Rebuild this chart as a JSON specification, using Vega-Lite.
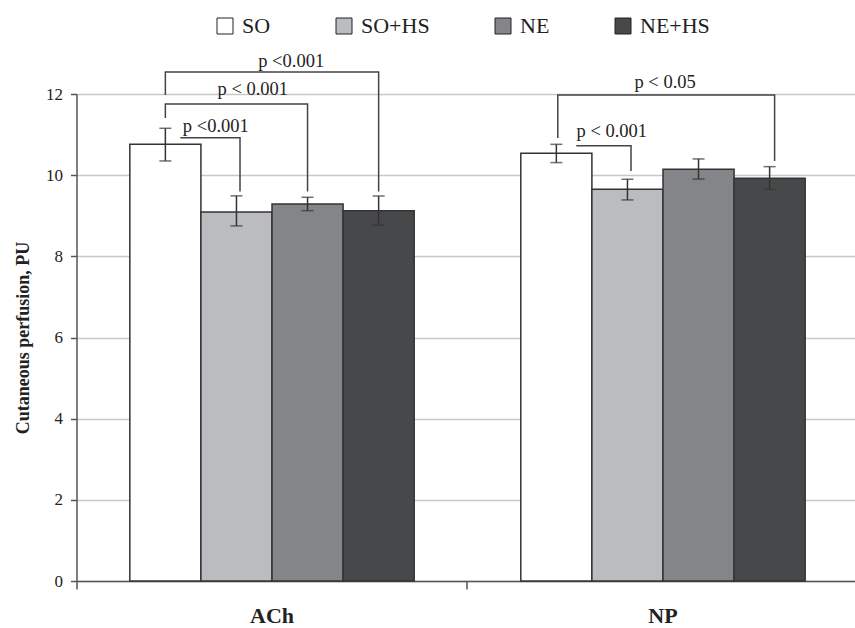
{
  "$schema": "https://vega.github.io/schema/vega-lite/v6.json",
  "width": 782,
  "height": 487,
  "autosize": {"type": "none"},
  "padding": {"left": 76.5, "top": 94, "right": 0, "bottom": 47},
  "background": "white",
  "config": {
    "font": "Liberation Serif",
    "view": {"stroke": null},
    "text": {"font": "Liberation Serif"},
    "axis": {
      "labelFont": "Liberation Serif",
      "titleFont": "Liberation Serif",
      "domainColor": "#555555",
      "domainWidth": 1.5,
      "tickColor": "#555555",
      "tickWidth": 1.5,
      "labelColor": "#222222",
      "titleColor": "#222222",
      "gridColor": "#c8c8c8",
      "gridWidth": 1.5
    },
    "axisY": {
      "labelFont": "Liberation Serif",
      "labelFontSize": 17,
      "tickSize": 6,
      "labelPadding": 8,
      "titleFont": "Liberation Serif",
      "titleFontSize": 18,
      "titleFontWeight": "bold",
      "titlePadding": 13,
      "grid": true
    },
    "axisX": {
      "labelFont": "Liberation Serif",
      "labelFontSize": 22,
      "labelFontWeight": "bold",
      "tickSize": 8,
      "labelPadding": 16,
      "grid": false,
      "labelAngle": 0
    },
    "legend": {
      "labelFont": "Liberation Serif",
      "labelFontSize": 22,
      "labelColor": "#222222"
    }
  },
  "datasets": {
    "bars": [
      {"group": "ACh", "series": "SO", "mean": 10.76, "lo": 10.35, "hi": 11.155},
      {"group": "ACh", "series": "SO+HS", "mean": 9.09, "lo": 8.75, "hi": 9.49},
      {"group": "ACh", "series": "NE", "mean": 9.29, "lo": 9.125, "hi": 9.455},
      {"group": "ACh", "series": "NE+HS", "mean": 9.125, "lo": 8.765, "hi": 9.487},
      {"group": "NP", "series": "SO", "mean": 10.54, "lo": 10.31, "hi": 10.76},
      {"group": "NP", "series": "SO+HS", "mean": 9.65, "lo": 9.39, "hi": 9.9},
      {"group": "NP", "series": "NE", "mean": 10.145, "lo": 9.905, "hi": 10.4},
      {"group": "NP", "series": "NE+HS", "mean": 9.925, "lo": 9.65, "hi": 10.21}
    ],
    "brackets": [
      {"id": "b1", "ord": 1, "pos": 0.21, "level": 10.923},
      {"id": "b1", "ord": 2, "pos": 1.05, "level": 10.923},
      {"id": "b1", "ord": 3, "pos": 1.05, "level": 9.6},
      {"id": "b2", "ord": 1, "pos": 0, "level": 11.409},
      {"id": "b2", "ord": 2, "pos": 0, "level": 11.754},
      {"id": "b2", "ord": 3, "pos": 2.0, "level": 11.754},
      {"id": "b2", "ord": 4, "pos": 2.0, "level": 9.6},
      {"id": "b3", "ord": 1, "pos": 0, "level": 11.975},
      {"id": "b3", "ord": 2, "pos": 0, "level": 12.542},
      {"id": "b3", "ord": 3, "pos": 3.0, "level": 12.542},
      {"id": "b3", "ord": 4, "pos": 3.0, "level": 9.6},
      {"id": "b4", "ord": 1, "pos": 5.78, "level": 10.726},
      {"id": "b4", "ord": 2, "pos": 6.55, "level": 10.726},
      {"id": "b4", "ord": 3, "pos": 6.55, "level": 10.105},
      {"id": "b5", "ord": 1, "pos": 5.52, "level": 10.916},
      {"id": "b5", "ord": 2, "pos": 5.52, "level": 11.975},
      {"id": "b5", "ord": 3, "pos": 8.57, "level": 11.975},
      {"id": "b5", "ord": 4, "pos": 8.57, "level": 10.349}
    ],
    "labels": [
      {"text": "p <0.001", "pos": 0.71, "level": 11.064},
      {"text": "p < 0.001", "pos": 1.23, "level": 11.975},
      {"text": "p <0.001", "pos": 1.77, "level": 12.665},
      {"text": "p < 0.001", "pos": 6.28, "level": 10.94},
      {"text": "p < 0.05", "pos": 7.03, "level": 12.148}
    ]
  },
  "layer": [
    {
      "data": {"name": "bars"},
      "encoding": {
        "x": {
          "field": "group",
          "type": "nominal",
          "title": null,
          "scale": {"domain": ["ACh", "NP"], "paddingInner": 0.2727, "paddingOuter": 0.1364},
          "axis": {"bandPosition": -0.1875, "labelFont": "Liberation Serif"}
        },
        "xOffset": {
          "field": "series",
          "type": "nominal",
          "scale": {"domain": ["SO", "SO+HS", "NE", "NE+HS"], "paddingInner": 0, "paddingOuter": 0}
        }
      },
      "layer": [
        {
          "mark": {"type": "bar", "stroke": "#333333", "strokeWidth": 1.5},
          "encoding": {
            "y": {
              "field": "mean",
              "type": "quantitative",
              "title": "Cutaneous perfusion, PU",
              "scale": {"domain": [0, 12], "nice": false},
              "axis": {"values": [0, 2, 4, 6, 8, 10, 12], "labelFont": "Liberation Serif", "titleFont": "Liberation Serif"}
            },
            "fill": {
              "field": "series",
              "type": "nominal",
              "scale": {"domain": ["SO", "SO+HS", "NE", "NE+HS"], "range": ["#ffffff", "#bbbcc0", "#848589", "#47484a"]},
              "legend": {
                "title": null,
                "orient": "none",
                "direction": "horizontal",
                "columns": 4,
                "legendX": 137.5,
                "legendY": -79,
                "symbolType": "square",
                "symbolSize": 256,
                "symbolStrokeColor": "#222222",
                "symbolStrokeWidth": 1,
                "labelFont": "Liberation Serif",
                "labelFontSize": 22,
                "labelColor": "#222222",
                "labelOffset": 6,
                "columnPadding": 62
              }
            }
          }
        },
        {
          "mark": {"type": "rule", "color": "#333333", "strokeWidth": 1.5},
          "encoding": {
            "y": {"field": "lo", "type": "quantitative", "title": "Cutaneous perfusion, PU", "scale": {"domain": [0, 12], "nice": false}},
            "y2": {"field": "hi"}
          }
        },
        {
          "mark": {"type": "tick", "color": "#333333", "size": 12, "thickness": 1.5, "orient": "horizontal"},
          "encoding": {
            "y": {"field": "lo", "type": "quantitative", "title": "Cutaneous perfusion, PU", "scale": {"domain": [0, 12], "nice": false}}
          }
        },
        {
          "mark": {"type": "tick", "color": "#333333", "size": 12, "thickness": 1.5, "orient": "horizontal"},
          "encoding": {
            "y": {"field": "hi", "type": "quantitative", "title": "Cutaneous perfusion, PU", "scale": {"domain": [0, 12], "nice": false}}
          }
        }
      ]
    },
    {
      "layer": [
        {
          "data": {"name": "brackets"},
          "mark": {"type": "line", "color": "#444444", "strokeWidth": 1.5, "clip": false},
          "encoding": {
            "x": {"field": "pos", "type": "quantitative", "scale": {"domain": [-1.25, 9.75], "nice": false, "zero": false}, "axis": null},
            "y": {"field": "level", "type": "quantitative", "title": "Cutaneous perfusion, PU", "scale": {"domain": [0, 12], "nice": false}},
            "detail": {"field": "id", "type": "nominal"},
            "order": {"field": "ord", "type": "quantitative"}
          }
        },
        {
          "data": {"name": "labels"},
          "mark": {"type": "text", "font": "Liberation Serif", "fontSize": 18.5, "color": "#222222", "align": "center", "baseline": "alphabetic", "clip": false},
          "encoding": {
            "x": {"field": "pos", "type": "quantitative", "scale": {"domain": [-1.25, 9.75], "nice": false, "zero": false}, "axis": null},
            "y": {"field": "level", "type": "quantitative", "title": "Cutaneous perfusion, PU", "scale": {"domain": [0, 12], "nice": false}},
            "text": {"field": "text", "type": "nominal"}
          }
        }
      ]
    }
  ],
  "resolve": {"scale": {"x": "independent"}}
}
